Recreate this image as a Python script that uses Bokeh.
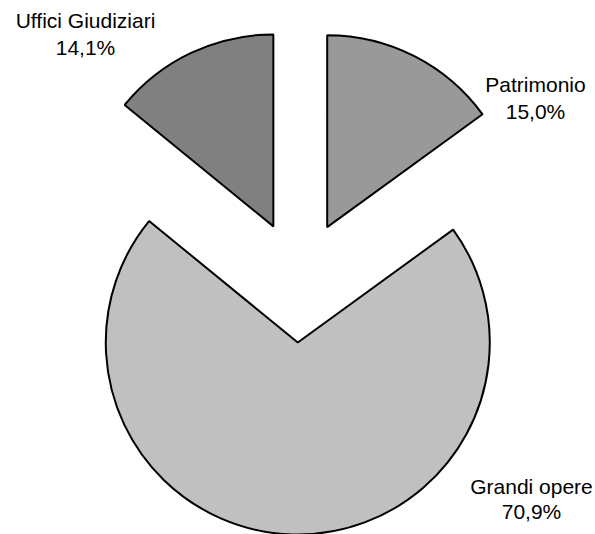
import math
from bokeh.plotting import figure
from bokeh.models import Range1d
from bokeh.core.properties import value
from bokeh.embed import file_html
from bokeh.resources import INLINE

# ---- data ----
categories = ["Patrimonio", "Grandi opere", "Uffici Giudiziari"]
shares = [15.0, 70.9, 14.1]
colors = ["#999999", "#c0c0c0", "#808080"]

# ---- layout (screen-pixel based) ----
W, H = 595, 534
def sy(screen_y):  # screen y -> data y
    return H - screen_y

cx, cy = 299, sy(281)
R = 192
EXPLODE = 61
# label centres (screen coords) for line 1 / line 2
label_xy = [(535, 84, 111), (531, 486, 511), (85, 20, 47)]

p = figure(width=W, height=H, output_backend="svg", toolbar_location=None,
           x_range=Range1d(0, W), y_range=Range1d(0, H),
           min_border=0, outline_line_color=None)
p.axis.visible = False
p.grid.visible = False
p.background_fill_color = "white"

total = sum(shares)
cum = 0.0
for name, v, col, (lx, ly1, ly2) in zip(categories, shares, colors, label_xy):
    a0 = math.radians(90 - cum / total * 360)
    a1 = math.radians(90 - (cum + v) / total * 360)
    mid = (a0 + a1) / 2
    x = cx + EXPLODE * math.cos(mid)
    y = cy + EXPLODE * math.sin(mid)
    p.wedge(x=[x], y=[y], radius=R, start_angle=[a0], end_angle=[a1],
            direction="clock", fill_color=col, line_color="black", line_width=2)
    pct = f"{v:.1f}%".replace(".", ",")
    p.text(x=[lx], y=[sy(ly1)], text=[name], text_align="center", text_baseline="middle",
           text_font=value("Liberation Sans"), text_font_size="21px", text_color="black")
    p.text(x=[lx], y=[sy(ly2)], text=[pct], text_align="center", text_baseline="middle",
           text_font=value("Liberation Sans"), text_font_size="21px", text_color="black")
    cum += v

open("out.html", "w").write(file_html(p, INLINE))
